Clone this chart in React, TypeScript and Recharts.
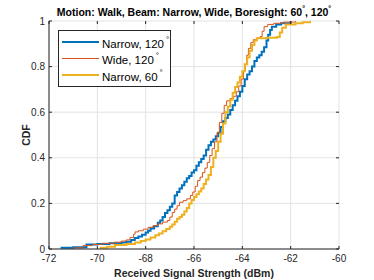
import {
  CartesianGrid,
  Legend,
  Line,
  LineChart,
  XAxis,
  YAxis,
} from "recharts";

const W = 374;
const H = 280;
const M = { top: 21, right: 35, bottom: 0, left: 0 };
const Y_AXIS_W = 49;
const X_AXIS_H = 31;
const PLOT_TOP = M.top;
const PLOT_BOTTOM = H - X_AXIS_H;
const PLOT_LEFT = Y_AXIS_W;
const PLOT_RIGHT = W - M.right;

const FONT = "'Liberation Sans', Arial, Helvetica, sans-serif";
const AXIS = "#262626";

const X_TICKS = [-72, -70, -68, -66, -64, -62, -60];
const Y_TICKS = [0, 0.2, 0.4, 0.6, 0.8, 1];

// Narrow beam, 120 deg boresight
const narrow120X = [
  -71.52, -71.0, -70.45, -70.0, -69.5, -69.0, -68.8, -68.6, -68.45, -68.3,
  -68.15, -68.0, -67.9, -67.8, -67.65, -67.5, -67.4, -67.3, -67.2, -67.1,
  -67.0, -66.9, -66.8, -66.7, -66.6, -66.5, -66.4, -66.3, -66.2, -66.1,
  -66.0, -65.9, -65.8, -65.7, -65.6, -65.5, -65.4, -65.3, -65.2, -65.1,
  -65.0, -64.9, -64.8, -64.7, -64.6, -64.5, -64.4, -64.3, -64.2, -64.1,
  -64.0, -63.9, -63.8, -63.7, -63.6, -63.5, -63.4, -63.3, -63.2, -63.1,
  -63.0, -62.93, -62.85, -62.78, -62.6, -62.4, -62.0,
];
const narrow120Y = [
  0.005, 0.008, 0.02, 0.022, 0.025, 0.028, 0.032, 0.04, 0.048, 0.055,
  0.062, 0.072, 0.08, 0.09, 0.1, 0.115, 0.125, 0.14, 0.158, 0.17,
  0.185, 0.2, 0.235, 0.25, 0.265, 0.28, 0.295, 0.31, 0.32, 0.335,
  0.345, 0.365, 0.38, 0.395, 0.41, 0.435, 0.455, 0.47, 0.48, 0.495,
  0.51, 0.535, 0.56, 0.575, 0.59, 0.61, 0.63, 0.65, 0.67, 0.69,
  0.715, 0.745, 0.765, 0.78, 0.8, 0.825, 0.84, 0.85, 0.865, 0.885,
  0.915, 0.94, 0.96, 0.975, 0.985, 0.99, 1.0,
];

// Wide beam, 120 deg boresight
const wide120X = [
  -71.0, -70.6, -70.2, -69.8, -69.3, -69.0, -68.8, -68.65, -68.5, -68.44,
  -68.3, -68.1, -67.9, -67.7, -67.5, -67.3, -67.1, -67.0, -66.9, -66.8,
  -66.7, -66.6, -66.45, -66.3, -66.15, -66.05, -65.95, -65.85, -65.75, -65.65,
  -65.55, -65.45, -65.35, -65.25, -65.15, -65.05, -64.95, -64.85, -64.75, -64.65,
  -64.5, -64.36, -64.25, -64.15, -64.05, -63.95, -63.88, -63.82, -63.75, -63.65,
  -63.55, -63.4, -63.26, -63.18, -63.1, -62.95, -62.7, -62.3, -61.8,
];
const wide120Y = [
  0.005, 0.015, 0.02, 0.025, 0.03, 0.035, 0.04, 0.05, 0.065, 0.075,
  0.08, 0.087, 0.095, 0.102, 0.11, 0.118, 0.125, 0.14, 0.16, 0.175,
  0.19, 0.205, 0.212, 0.22, 0.235, 0.25, 0.275, 0.3, 0.315, 0.335,
  0.355, 0.38, 0.41, 0.44, 0.47, 0.51, 0.555, 0.595, 0.63, 0.65,
  0.66, 0.67, 0.69, 0.715, 0.745, 0.78, 0.81, 0.85, 0.88, 0.905,
  0.918, 0.925, 0.932, 0.955, 0.975, 0.985, 0.99, 0.995, 1.0,
];

// Narrow beam, 60 deg boresight
const narrow60X = [
  -69.9, -69.6, -69.27, -68.8, -68.44, -68.2, -68.0, -67.8, -67.6, -67.45,
  -67.3, -67.15, -67.0, -66.9, -66.8, -66.7, -66.6, -66.5, -66.4, -66.3,
  -66.2, -66.1, -66.0, -65.9, -65.8, -65.7, -65.6, -65.5, -65.4, -65.3,
  -65.2, -65.1, -65.0, -64.9, -64.8, -64.7, -64.6, -64.5, -64.4, -64.3,
  -64.2, -64.1, -64.0, -63.9, -63.8, -63.7, -63.6, -63.5, -63.4, -63.0,
  -62.57, -62.45, -62.35, -62.2, -61.8, -61.5, -61.2,
];
const narrow60Y = [
  0.005, 0.01, 0.018, 0.022, 0.028, 0.035, 0.042, 0.05, 0.06, 0.068,
  0.078, 0.088, 0.098, 0.108, 0.12, 0.133, 0.14, 0.15, 0.165, 0.18,
  0.2, 0.215, 0.228, 0.24, 0.252, 0.265, 0.285, 0.305, 0.325, 0.36,
  0.4, 0.43, 0.47, 0.505, 0.55, 0.6, 0.625, 0.655, 0.685, 0.71,
  0.73, 0.755, 0.78, 0.81, 0.84, 0.87, 0.895, 0.915, 0.924, 0.926,
  0.93, 0.95, 0.97, 0.985, 0.99, 0.995, 1.0,
];

const zip = (xs: number[], ys: number[]) => xs.map((x, i) => ({ x, y: ys[i] }));

const SERIES = [
  { name: "Narrow, 120", color: "#0072BD", width: 2, data: zip(narrow120X, narrow120Y) },
  { name: "Wide, 120", color: "#D95319", width: 1, data: zip(wide120X, wide120Y) },
  { name: "Narrow, 60", color: "#EDB120", width: 2, data: zip(narrow60X, narrow60Y) },
];

const XTick = (props: any) => {
  const { x, payload } = props;
  return (
    <g>
      <line x1={x} x2={x} y1={PLOT_BOTTOM} y2={PLOT_BOTTOM - 3} stroke={AXIS} />
      <line x1={x} x2={x} y1={PLOT_TOP} y2={PLOT_TOP + 3} stroke={AXIS} />
      <text x={x} y={PLOT_BOTTOM + 13} textAnchor="middle" fontSize={10} fill={AXIS} fontFamily={FONT}>
        {payload.value}
      </text>
    </g>
  );
};

const YTick = (props: any) => {
  const { y, payload } = props;
  return (
    <g>
      <line x1={PLOT_LEFT} x2={PLOT_LEFT + 3} y1={y} y2={y} stroke={AXIS} />
      <line x1={PLOT_RIGHT} x2={PLOT_RIGHT - 3} y1={y} y2={y} stroke={AXIS} />
      <text x={PLOT_LEFT - 4} y={y + 3.5} textAnchor="end" fontSize={10} fill={AXIS} fontFamily={FONT}>
        {payload.value}
      </text>
    </g>
  );
};

const LegendBox = () => (
  <div
    style={{
      border: `1px solid ${AXIS}`,
      background: "#fff",
      padding: "3px 0 2px 3px",
      fontFamily: FONT,
      fontSize: 11.5,
      color: "#000",
    }}
  >
    {SERIES.map((s) => (
      <div key={s.name} style={{ display: "flex", alignItems: "center", height: 16.5 }}>
        <span style={{ width: 37, height: s.width, background: s.color, marginRight: 3 }} />
        <span>
          {s.name}
          <span style={{ fontSize: 8, verticalAlign: "6px", marginLeft: 2 }}>°</span>
        </span>
      </div>
    ))}
  </div>
);

export default function App() {
  return (
    <div style={{ position: "absolute", left: 0, top: 0, width: W, height: H, background: "#fff" }}>
      <div
        style={{
          position: "absolute",
          left: PLOT_LEFT,
          width: PLOT_RIGHT - PLOT_LEFT,
          top: 5,
          textAlign: "center",
          fontFamily: FONT,
          fontWeight: "bold",
          fontSize: 10.5,
          color: "#000",
          whiteSpace: "nowrap",
        }}
      >
        Motion: Walk, Beam: Narrow, Wide, Boresight: 60
        <span style={{ fontSize: 7, verticalAlign: "5px" }}>°</span>, 120
        <span style={{ fontSize: 7, verticalAlign: "5px" }}>°</span>
      </div>
      <LineChart width={W} height={H} margin={M}>
        <CartesianGrid stroke="#e3e3e3" strokeWidth={1} />
        <XAxis
          type="number"
          dataKey="x"
          domain={[-72, -60]}
          ticks={X_TICKS}
          allowDataOverflow
          height={X_AXIS_H}
          axisLine={{ stroke: AXIS }}
          tickLine={false}
          tick={<XTick />}
          label={{
            value: "Received Signal Strength (dBm)",
            position: "insideBottom",
            offset: 3,
            style: { fontFamily: FONT, fontWeight: "bold", fontSize: 10.5, fill: AXIS },
          }}
        />
        <XAxis
          xAxisId="top"
          orientation="top"
          type="number"
          domain={[-72, -60]}
          height={0}
          tick={false}
          tickLine={false}
          axisLine={{ stroke: AXIS }}
        />
        <YAxis
          type="number"
          domain={[0, 1]}
          ticks={Y_TICKS}
          width={Y_AXIS_W}
          axisLine={{ stroke: AXIS }}
          tickLine={false}
          tick={<YTick />}
          label={{
            value: "CDF",
            angle: -90,
            position: "insideLeft",
            offset: 26,
            style: { fontFamily: FONT, fontWeight: "bold", fontSize: 10.5, fill: AXIS, textAnchor: "middle" },
          }}
        />
        <YAxis
          yAxisId="right"
          orientation="right"
          type="number"
          domain={[0, 1]}
          width={0}
          tick={false}
          tickLine={false}
          axisLine={{ stroke: AXIS }}
        />
        {SERIES.map((s) => (
          <Line
            key={s.name}
            data={s.data}
            dataKey="y"
            name={s.name}
            type="stepAfter"
            stroke={s.color}
            strokeWidth={s.width}
            dot={false}
            isAnimationActive={false}
          />
        ))}
        <Legend
          layout="vertical"
          align="center"
          verticalAlign="middle"
          content={<LegendBox />}
          wrapperStyle={{ position: "absolute", left: 58, top: 30, width: 113, height: "auto" }}
        />
      </LineChart>
    </div>
  );
}
